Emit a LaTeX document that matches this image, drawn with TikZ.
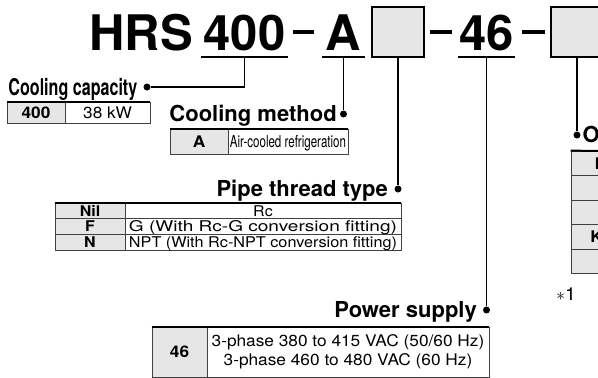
\documentclass[tikz,border=0pt]{standalone}
\usepackage{fontspec}
\usepackage{graphicx}
\newfontfamily\heros{TeX Gyre Heros}
\newfontfamily\heroscond[FakeStretch=0.7]{TeX Gyre Heros}
\newfontfamily\heroswide[FakeStretch=1.08]{TeX Gyre Heros}
\definecolor{cellgray}{RGB}{230,230,230}
\newcommand{\fitw}[2]{\resizebox{#1}{\height}{#2}}
\tikzset{
    modelcode/.style={font=\heros\bfseries\fontsize{49}{49}\selectfont, inner sep=0pt, anchor=base},
    slot/.style={draw=black, fill=cellgray, line width=1.3pt, minimum width=52pt, minimum height=50pt},
    uline/.style={line width=2.2pt},
    hyph/.style={line width=4pt},
    lead/.style={line width=1.3pt},
    dotmark/.style={circle, fill=black, inner sep=0pt, minimum size=7pt},
    heading/.style={font=\heros\bfseries\fontsize{22}{22}\selectfont, inner sep=0pt, text height=15.8pt, text depth=0pt},
    headcond/.style={font=\heroscond\bfseries\fontsize{23}{23}\selectfont, inner sep=0pt, text height=16.5pt, text depth=0pt},
    cell/.style={draw=black!75, line width=0.8pt, inner sep=0pt},
    keycell/.style={cell, fill=cellgray, text height=11.5pt, text depth=0pt, font=\heroswide\bfseries\fontsize{16}{19}\selectfont},
    valcell/.style={cell, fill=white, text height=11.5pt, text depth=0pt, font=\heroswide\fontsize{16}{19}\selectfont},
    slimrow/.style={text height=10.6pt, minimum height=15.7pt},
    topline/.style={line width=2pt}
}

\begin{document}
\begin{tikzpicture}[x=1pt, y=-1pt]
    \useasboundingbox (0,0) rectangle (598,378);
    \clip (0,0) rectangle (598,378);

    % model number
    \node[modelcode] (hrs) at (141,50) {HRS};
    \node[modelcode] (n400) at (244.5,50) {400};
    \node[modelcode] (nA) at (343.5,50) {A};
    \node[modelcode] (n46) at (486.5,50) {46};
    \node[slot] (slot1) at (398,32) {};
    \node[slot] (slot2) at (577,32) {};
    \draw[hyph] (293,32) -- (314,32);
    \draw[hyph] (430,32) -- (452,32);
    \draw[hyph] (522,32) -- (545,32);
    \draw[uline] (201,57) -- (288,57);
    \draw[uline] (322,57) -- (365,57);
    \draw[uline] (458,57) -- (515,57);
    \coordinate (u400) at (244.5,57);
    \coordinate (uA) at (343.5,57);
    \coordinate (u46) at (486.5,57);

    % cooling capacity
    \node[dotmark] (capDot) at (147,87) {};
    \node[headcond, anchor=east] (capLbl) at (137.5,87) {Cooling capacity};
    \draw[lead] (u400) |- (capDot);
    \node[keycell, minimum width=58pt, minimum height=21pt] (k400) at (36,112.5) {400};
    \node[valcell, minimum width=85pt, minimum height=21pt] (v400) at (107.5,112.5) {38 kW};
    \draw[topline] (k400.north west) -- (v400.north east);

    % cooling method
    \node[dotmark] (methDot) at (343.5,114) {};
    \node[heading, anchor=east] (methLbl) at (337,114) {Cooling method};
    \draw[lead] (uA) -- (methDot);
    \node[keycell, minimum width=58pt, minimum height=25pt] (kA) at (199,141.5) {A};
    \node[valcell, minimum width=120pt, minimum height=25pt] (vA) at (288,141.5) {\heroscond\fontsize{16.5}{19}\selectfont Air-cooled refrigeration};
    \draw[topline] (kA.north west) -- (vA.north east);

    % pipe thread type
    \node[dotmark] (pipeDot) at (398,189) {};
    \node[heading, anchor=east] (pipeLbl) at (388,189) {Pipe thread type};
    \draw[lead] (slot1.south) -- (pipeDot);
    \node[keycell, slimrow, minimum width=70pt, font=\heroswide\bfseries\fontsize{14.8}{16}\selectfont] (kNil) at (90,210.8) {Nil};
    \node[valcell, slimrow, minimum width=276pt, font=\heroswide\fontsize{14.8}{16}\selectfont] (vNil) at (263,210.8) {Rc};
    \node[keycell, slimrow, minimum width=70pt, font=\heroswide\bfseries\fontsize{14.8}{16}\selectfont] (kF) at (90,226.5) {F};
    \node[valcell, slimrow, minimum width=276pt, font=\heroswide\fontsize{14.8}{16}\selectfont] (vF) at (263,226.5) {\fitw{268pt}{G (With Rc-G conversion fitting)}};
    \node[keycell, slimrow, minimum width=70pt, font=\heroswide\bfseries\fontsize{14.8}{16}\selectfont] (kN) at (90,242.2) {N};
    \node[valcell, slimrow, minimum width=276pt, font=\heroswide\fontsize{14.8}{16}\selectfont] (vN) at (263,242.2) {\fitw{268pt}{NPT (With Rc-NPT conversion fitting)}};
    \draw[topline] (kNil.north west) -- (vNil.north east);

    % power supply
    \node[dotmark] (powDot) at (486.5,310) {};
    \node[heading, anchor=east] (powLbl) at (477,310) {Power supply};
    \draw[lead] (u46) -- (powDot);
    \node[keycell, minimum width=55pt, minimum height=50pt] (k46) at (179.5,352) {46};
    \node[cell, fill=white, minimum width=282pt, minimum height=50pt, align=center,
          font=\heroswide\fontsize{16}{19}\selectfont] (v46) at (348,352)
          {3-phase 380 to 415 VAC (50/60 Hz)\\3-phase 460 to 480 VAC (60 Hz)};
    \draw[topline] (k46.north west) -- (v46.north east);

    % option
    \node[dotmark] (optDot) at (577,135) {};
    \node[heading, anchor=west] (optLbl) at (582.5,135) {Option};
    \draw[lead] (slot2.south) -- (optDot);
    \foreach \r/\y in {1/163.25, 2/187.75, 3/212.25, 4/236.75, 5/261.25}
        \node[keycell, minimum width=70pt, minimum height=24.5pt] (kOpt\r) at (606,\y) {};
    \draw[topline] (kOpt1.north west) -- (598,151);
    \node[keycell, draw=none, fill=none, anchor=west] (tNil) at (594.5,163.25) {Nil};
    \node[keycell, draw=none, fill=none, anchor=west] (tK) at (590,236.75) {K};
    \node[valcell, draw=none, fill=none, anchor=west, font=\heroswide\fontsize{18}{19}\selectfont] (note) at (556,295) {$\ast$1};
\end{tikzpicture}
\end{document}
